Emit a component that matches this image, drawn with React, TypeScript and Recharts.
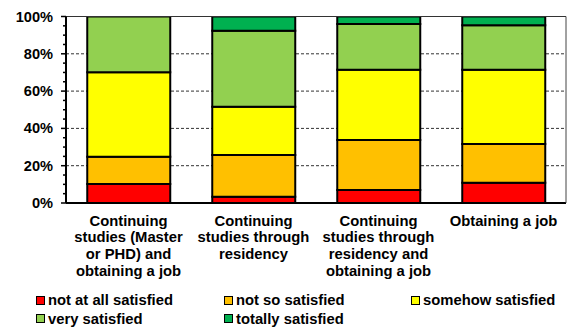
import React from "react";
import { BarChart, Bar, XAxis, YAxis, CartesianGrid, ReferenceLine, Legend } from "recharts";

const categories = [
  "Continuing studies (Master or PHD) and obtaining a job",
  "Continuing studies through residency",
  "Continuing studies through residency and obtaining a job",
  "Obtaining a job",
];
const categoryLabelLines = [
  ["Continuing", "studies (Master", "or PHD) and", "obtaining a job"],
  ["Continuing", "studies through", "residency"],
  ["Continuing", "studies through", "residency and", "obtaining a job"],
  ["Obtaining a job"],
];
const notAtAllSatisfied = [10.2, 3.4, 7.0, 10.9];
const notSoSatisfied = [14.6, 22.3, 26.8, 20.7];
const somehowSatisfied = [45.3, 25.9, 37.7, 39.9];
const verySatisfied = [29.9, 40.8, 24.5, 23.8];
const totallySatisfied = [0, 7.6, 4.0, 4.7];

const seriesNames = ["not at all satisfied", "not so satisfied", "somehow satisfied", "very satisfied", "totally satisfied"];
const seriesKeys = ["s0", "s1", "s2", "s3", "s4"];
const seriesColors = ["#FF0000", "#FFC000", "#FFFF00", "#92D050", "#00B050"];
const seriesValues = [notAtAllSatisfied, notSoSatisfied, somehowSatisfied, verySatisfied, totallySatisfied];

const yTicks = [0, 5, 10, 15, 20, 25, 30, 35, 40, 45, 50, 55, 60, 65, 70, 75, 80, 85, 90, 95, 100];
const yLabelTicks = [0, 20, 40, 60, 80, 100];
const gridValues = [20, 40, 60, 80];

const data = categories.map((name, i) => {
  const row: any = { name };
  seriesKeys.forEach((k, j) => (row[k] = seriesValues[j][i]));
  return row;
});

const FONT = "'Liberation Sans', Arial, sans-serif";

const YTick = (props: any) => {
  const { x, y, payload } = props;
  const v = payload.value;
  const major = yLabelTicks.includes(v);
  const axisX = x + 13;
  return (
    <g>
      <line x1={axisX - (major ? 5 : 3)} x2={axisX} y1={y} y2={y} stroke="#000" strokeWidth={1.5} />
      {major && (
        <text x={x} y={y} dy={5} textAnchor="end" fontFamily={FONT} fontWeight="bold" fontSize={14.6} fill="#000">
          {v}%
        </text>
      )}
    </g>
  );
};

const XTick = (props: any) => {
  const { x, y, payload } = props;
  const idx = categories.indexOf(payload.value);
  const lines = categoryLabelLines[idx] || [];
  return (
    <text x={x} y={y} textAnchor="middle" fontFamily={FONT} fontWeight="bold" fontSize={14.8} fill="#000">
      {lines.map((l, i) => (
        <tspan key={i} x={x} y={y + 22.5 + i * 16.8}>
          {l}
        </tspan>
      ))}
    </text>
  );
};

const legendCols = [36, 224, 411];
const legendRowH = 18.5;

const renderLegend = () => (
  <div style={{ position: "relative", width: 567, height: 40, fontFamily: FONT, fontWeight: "bold", fontSize: 14.8 }}>
    {seriesNames.map((n, i) => {
      const col = i % 3;
      const row = Math.floor(i / 3);
      return (
        <div
          key={n}
          style={{ position: "absolute", left: legendCols[col], top: row * legendRowH, display: "flex", alignItems: "center", height: 18, whiteSpace: "nowrap", color: "#000" }}
        >
          <span style={{ display: "inline-block", width: 7, height: 7, background: seriesColors[i], border: "1px solid #000", marginRight: 3 }} />
          <span>{n}</span>
        </div>
      );
    })}
  </div>
);

export default function App() {
  return (
    <div style={{ position: "absolute", left: 0, top: 0, width: 567, height: 329, background: "#fff" }}>
      <BarChart
        width={567}
        height={329}
        data={data}
        margin={{ top: 16.5, right: 0, left: 0, bottom: 46 }}
        barCategoryGap="17%"
      >
        <CartesianGrid horizontal vertical={false} horizontalValues={gridValues} strokeDasharray="3 2" stroke="#333" />
        <XAxis
          dataKey="name"
          interval={0}
          height={80}
          tickLine={false}
          tickSize={0}
          tickMargin={0}
          tick={<XTick />}
          axisLine={{ stroke: "#000", strokeWidth: 2 }}
        />
        <YAxis
          domain={[0, 100]}
          ticks={yTicks}
          interval={0}
          width={66}
          tickLine={false}
          tickSize={5}
          tickMargin={8}
          tick={<YTick />}
          axisLine={{ stroke: "#000", strokeWidth: 2 }}
          allowDataOverflow
        />
        <YAxis yAxisId="r" orientation="right" width={1} domain={[0, 100]} tick={false} tickLine={false} axisLine={{ stroke: "#444", strokeWidth: 1 }} />
        {seriesKeys.map((k, i) => (
          <Bar key={k} dataKey={k} name={seriesNames[i]} stackId="a" fill={seriesColors[i]} stroke="#000" strokeWidth={2} isAnimationActive={false} />
        ))}
        <ReferenceLine y={100} stroke="#333" strokeWidth={1} />
        <Legend
          layout="horizontal"
          verticalAlign="middle"
          align="center"
          content={renderLegend}
          wrapperStyle={{ top: 291, left: 0, width: 567 }}
        />
      </BarChart>
    </div>
  );
}
